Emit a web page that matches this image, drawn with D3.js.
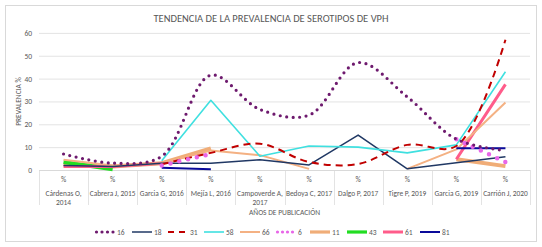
<!DOCTYPE html>
<html><head><meta charset="utf-8">
<script src="https://cdn.jsdelivr.net/npm/d3@7"></script>
<style>
html,body{margin:0;padding:0;background:#fff;}
svg{display:block;font-family:Carlito, Calibri, "Open Sans", sans-serif;}
</style></head>
<body>
<svg id="chart" width="542" height="247"></svg>
<script>
const categories = ["Cárdenas O, 2014","Cabrera J, 2015","Garcia G, 2016","Mejía L, 2016","Campoverde A, 2017","Bedoya C, 2017","Dalgo P, 2017","Tigre P, 2019","Garcia G, 2019","Carrión J, 2020"];
const yTicks = [0,10,20,30,40,50,60];
const seriesNames = ["16","18","31","58","66","6","11","43","61","81"];
const s16 = [7, 3, 6, 41.5, 26.5, 24, 47, 32, 13.5, 8.5];
const s18 = [2, 1.5, 3, 3, 4.5, 2.2, 15.3, 0.5, 3.2, 5.8];
const s31 = [null, null, 2.5, 7.5, 11.5, 3.5, 2.6, 11, 10.5, 57];
const s58 = [null, null, 4, 30.5, 6, 10.5, 10, 7.5, 11, 43];
const s66 = [4.5, 2, 3, 8.5, 6.5, 0.5, null, 0.5, 9, 29.5];
const s6  = [null, null, 2, 7, null, null, null, null, 13.5, 3.5];
const s11 = [2.5, 1.5, 3, 9.5, null, null, null, null, 4.7, 1.7];
const s43 = [3.5, 0.3, null, null, null, null, null, null, null, null];
const s61 = [1.5, 1.5, 3, null, null, null, null, null, 4.7, 37.5];
const s81 = [null, null, 1, 0.3, null, null, null, null, 9.5, 9.5];

const values = [s16,s18,s31,s58,s66,s6,s11,s43,s61,s81];
const styles = {
  "16": {color:"#6E1A6E", width:3.2, dash:"0 6.5", cap:"round", smooth:true},
  "18": {color:"#203864", width:1.5, dash:null, cap:"butt", smooth:false},
  "31": {color:"#C00000", width:2, dash:"7 5", cap:"butt", smooth:true},
  "58": {color:"#3FE0E0", width:1.6, dash:null, cap:"butt", smooth:false},
  "66": {color:"#F4B183", width:2, dash:null, cap:"butt", smooth:false},
  "6":  {color:"#E866E8", width:4.5, dash:"0 9", cap:"round", smooth:false},
  "11": {color:"#F0AD78", width:4, dash:null, cap:"butt", smooth:false},
  "43": {color:"#22DD22", width:4, dash:null, cap:"butt", smooth:false},
  "61": {color:"#FF5C8A", width:3, dash:null, cap:"butt", smooth:false},
  "81": {color:"#0A0A9A", width:2, dash:null, cap:"butt", smooth:false}
};

const svg = d3.select("#chart");
const textCol = "#595959";

svg.append("rect").attr("x",5.5).attr("y",5.5).attr("width",531).attr("height",236)
  .attr("fill","#fff").attr("stroke","#D9D9D9").attr("stroke-width",1);

const pLeft = 39, pRight = 530, pTop = 32.9, pBottom = 170;
const x = d3.scaleBand().domain(categories).range([pLeft,pRight]).padding(0);
const y = d3.scaleLinear().domain([0,60]).range([pBottom,pTop]);

svg.append("text").attr("x",271).attr("y",21.5).attr("text-anchor","middle")
  .attr("fill",textCol).attr("font-size",10.5).text("TENDENCIA DE LA PREVALENCIA DE SEROTIPOS DE VPH");

const yAxis = d3.axisLeft(y).tickValues(yTicks).tickSize(-(pRight-pLeft)).tickPadding(7);
const gy = svg.append("g").attr("transform",`translate(${pLeft},0)`).call(yAxis);
gy.select(".domain").remove();
gy.selectAll(".tick line").attr("stroke","#E3E3E3").attr("stroke-width",1);
gy.selectAll(".tick text").attr("fill",textCol).attr("font-size",7.5).attr("font-family","Carlito, Calibri, 'Open Sans', sans-serif");

svg.append("text").attr("transform",`translate(21,${(pTop+pBottom)/2}) rotate(-90)`)
  .attr("text-anchor","middle").attr("fill",textCol).attr("font-size",7.5).text("PREVALENCIA %");

const gx = svg.append("g");
const edges = categories.map(c=>x(c)).concat([pRight]);
edges.forEach(e=>{
  gx.append("line").attr("x1",Math.round(e)+0.5).attr("x2",Math.round(e)+0.5)
    .attr("y1",pBottom).attr("y2",205).attr("stroke","#E3E3E3");
});
gx.append("line").attr("x1",pLeft).attr("x2",pRight).attr("y1",pBottom+0.5).attr("y2",pBottom+0.5).attr("stroke","#D9D9D9");
categories.forEach(c=>{
  const cx = x(c)+x.bandwidth()/2;
  gx.append("text").attr("x",cx).attr("y",182).attr("text-anchor","middle")
    .attr("fill",textCol).attr("font-size",7.3).text("%");
  let lines = [c];
  if (c.startsWith("Cárdenas")) lines = ["Cárdenas O,","2014"];
  if (c.startsWith("Campoverde")) lines = ["Campoverde A,","2017"];
  lines.forEach((l,i)=>{
    gx.append("text").attr("x",cx).attr("y",195.5+i*9.3).attr("text-anchor","middle")
      .attr("fill",textCol).attr("font-size",7.4).text(l);
  });
});
svg.append("text").attr("x",(pLeft+pRight)/2).attr("y",215).attr("text-anchor","middle")
  .attr("fill",textCol).attr("font-size",7.5).text("AÑOS DE PUBLICACIÓN");

const drawOrder = ["11","43","61","66","18","81","58","31","6","16"];
drawOrder.forEach(name=>{
  const i = seriesNames.indexOf(name);
  const st = styles[name];
  const data = values[i].map((v,j)=>({c:categories[j], v}));
  const line = d3.line()
    .defined(d=>d.v!==null)
    .x(d=>x(d.c)+x.bandwidth()/2)
    .y(d=>y(d.v))
    .curve(st.smooth ? d3.curveCatmullRom.alpha(0.5) : d3.curveLinear);
  svg.append("path").datum(data).attr("d",line)
    .attr("fill","none").attr("stroke",st.color).attr("stroke-width",st.width)
    .attr("stroke-dasharray",st.dash).attr("stroke-linecap",st.cap).attr("stroke-linejoin","round");
});

const legX = [95,132,168,204,240,276,310,347,383,420];
const legY = 232;
seriesNames.forEach((name,i)=>{
  const st = styles[name];
  const x0 = legX[i];
  let dash = null;
  if (name==="31") dash = "6 5";
  else if (name==="16") dash = "0 5.5";
  else if (name==="6") dash = "0 5";
  svg.append("line").attr("x1",x0+(st.cap==="round"?1.5:0)).attr("x2",x0+20).attr("y1",legY).attr("y2",legY)
    .attr("stroke",st.color).attr("stroke-width",Math.min(st.width,3.2))
    .attr("stroke-dasharray",dash).attr("stroke-linecap",st.cap);
  svg.append("text").attr("x",x0+22).attr("y",legY+2.6).attr("fill",textCol)
    .attr("font-size",7.5).text(name);
});
</script>
</body></html>
